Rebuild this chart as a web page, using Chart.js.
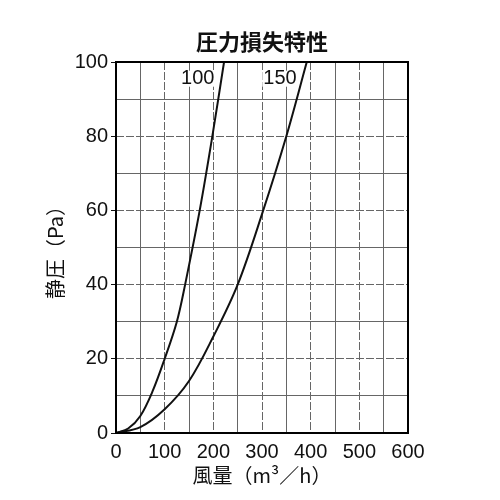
<!DOCTYPE html>
<html>
<head>
<meta charset="utf-8">
<script src="https://cdn.jsdelivr.net/npm/chart.js@4.4.1/dist/chart.umd.min.js"></script>
<style>
html,body{margin:0;padding:0;background:#fff;}
</style>
</head>
<body>
<canvas id="lossChart" width="500" height="500"></canvas>
<script>
// ===============================
// Data
// ===============================

const flow100=[0,25,50,75,100,125,142,172,198,222];
const pres100=[0,1.2,4.6,11.2,20,30,40,60,80,100];

const flow150=[0,50,100,150,200,250,300,350,392];
const pres150=[0,1.6,6.4,14,26,40,59,80,100];

const curveNames=['100','150'];
const nameFlow=[168,337];
const namePres=[95.5,95.5];

const titleText='圧力損失特性';
const xTitle='風量（m³／h）';
const yTitle='静圧（Pa）';

const toPoints=(xs,ys)=>xs.map((x,i)=>({x:x,y:ys[i]}));

const numFont="'Liberation Sans', Arial, sans-serif";
const jpFont="'Noto Sans CJK JP', sans-serif";

// ===============================
// Frame, title + curve labels
// ===============================

const framePlugin={
id:'frame',
afterDatasetsDraw(chart){
const {ctx,chartArea:a,scales}=chart;
ctx.save();
ctx.strokeStyle='#000';
ctx.lineWidth=2;
ctx.strokeRect(a.left,a.top,a.right-a.left,a.bottom-a.top);

ctx.textAlign='center';
ctx.textBaseline='middle';

ctx.fillStyle='#111';
ctx.font='bold 22px '+jpFont;
ctx.fillText(titleText,(a.left+a.right)/2,42);

ctx.font='20px '+numFont;
curveNames.forEach((name,i)=>{
const px=scales.x.getPixelForValue(nameFlow[i]);
const py=scales.y.getPixelForValue(namePres[i]);
const w=ctx.measureText(name).width;
ctx.fillStyle='#fff';
ctx.fillRect(px-w/2-1,py-8,w+2,16);
ctx.fillStyle='#111';
ctx.fillText(name,px,py);
});
ctx.restore();
}
};

// ===============================
// Chart
// ===============================

new Chart(document.getElementById('lossChart'),{

type:'line',

data:{
datasets:[
{
label:curveNames[0],
data:toPoints(flow100,pres100),
borderColor:'#111',
borderWidth:2,
pointRadius:0,
fill:false,
tension:0.35
},
{
label:curveNames[1],
data:toPoints(flow150,pres150),
borderColor:'#111',
borderWidth:2,
pointRadius:0,
fill:false,
tension:0.35
}
]
},

options:{
responsive:false,
animation:false,
layout:{padding:{left:0,right:92,top:62,bottom:0}},
plugins:{
legend:{display:false},
tooltip:{enabled:false},
title:{display:false}
},
scales:{
x:{
type:'linear',
min:0,
max:600,
afterFit(scale){scale.height=67;},
ticks:{
stepSize:50,
autoSkip:false,
maxRotation:0,
padding:2,
color:'#111',
font:{family:numFont,size:20},
callback:v=>v%100===0?String(v):''
},
grid:{
color:'#666',
lineWidth:1,
tickLength:5,
tickColor:'rgba(0,0,0,0)'
},
border:{
display:false,
dash:c=>(c.tick&&c.tick.value%100===0)?[8,2]:[]
},
title:{
display:true,
text:xTitle,
color:'#111',
font:{family:jpFont,size:20,lineHeight:1.2},
padding:{top:0,bottom:13}
}
},
y:{
min:0,
max:100,
afterFit(scale){scale.width=116;},
ticks:{
stepSize:10,
autoSkip:false,
padding:3,
color:'#111',
font:{family:numFont,size:20},
callback:v=>v%20===0?String(v):''
},
grid:{
color:'#666',
lineWidth:1,
tickLength:5,
tickColor:c=>(c.tick&&c.tick.value%20===0)?'#111':'rgba(0,0,0,0)'
},
border:{
display:false,
dash:c=>(c.tick&&c.tick.value%20===0&&c.tick.value>0&&c.tick.value<100)?[8,2]:[]
},
title:{
display:true,
text:yTitle,
color:'#111',
font:{family:jpFont,size:20,lineHeight:1.2},
padding:{top:43,bottom:0}
}
}
}
},

plugins:[framePlugin]

});
</script>
</body>
</html>
